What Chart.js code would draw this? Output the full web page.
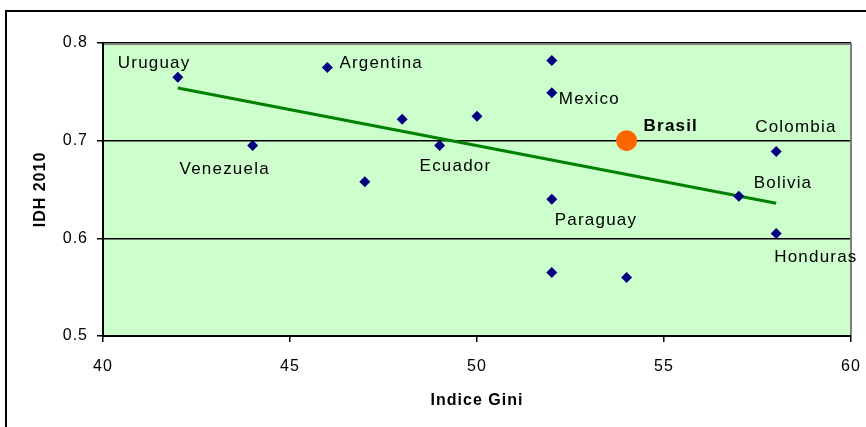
<!DOCTYPE html>
<html>
<head>
<meta charset="utf-8">
<script src="https://cdn.jsdelivr.net/npm/chart.js@4/dist/chart.umd.min.js"></script>
<style>
  html, body { margin: 0; padding: 0; background: #ffffff; }
  canvas { display: block; }
</style>
</head>
<body>
<canvas id="chart" width="866" height="427"></canvas>
<script>
// Latin American countries: Gini index vs. HDI 2010
const countryNames = ['Uruguay', 'Venezuela', 'Argentina', '', '', '', 'Mexico', 'Ecuador', '', 'Paraguay', '', '', 'Honduras', 'Colombia', 'Bolivia'];
const giniValues   = [42, 44, 46, 48, 50, 52, 52, 49, 47, 52, 52, 54, 58, 58, 57];
const idhValues    = [0.765, 0.695, 0.775, 0.722, 0.725, 0.782, 0.749, 0.695, 0.658, 0.640, 0.565, 0.560, 0.605, 0.689, 0.643];

// Highlighted country
const brasilName = 'Brasil';
const brasilGini = [54];
const brasilIdh  = [0.700];

// Linear trend line end points
const trendGini = [42, 58];
const trendIdh  = [0.754, 0.636];

// Axis ticks
const xTicks = [40, 45, 50, 55, 60];
const yTicks = [0.5, 0.6, 0.7, 0.8];

// Label placement relative to each point (left edge, baseline)
const labelOffsets = {
  Uruguay:   { dx: -60, dy: -9 },
  Venezuela: { dx: -73, dy: 28 },
  Argentina: { dx: 12,  dy: 1 },
  Mexico:    { dx: 7,   dy: 11 },
  Ecuador:   { dx: -20, dy: 25 },
  Paraguay:  { dx: 3,   dy: 26 },
  Honduras:  { dx: -2,  dy: 29 },
  Colombia:  { dx: -21, dy: -19 },
  Bolivia:   { dx: 15,  dy: -8 },
  Brasil:    { dx: 17,  dy: -10 }
};

const FONT = '"Liberation Sans", Arial, sans-serif';

const toPoints = (xs, ys) => xs.map((x, i) => ({ x: x, y: ys[i] }));

const framePlugin = {
  id: 'frame',
  beforeDraw(chart) {
    const { ctx, chartArea: a } = chart;
    ctx.letterSpacing = '1px';
    ctx.save();
    ctx.fillStyle = '#CCFFCC';
    ctx.fillRect(a.left, a.top, a.right - a.left, a.bottom - a.top);
    // outer chart frame
    ctx.strokeStyle = '#000000';
    ctx.lineWidth = 2;
    ctx.beginPath();
    ctx.moveTo(6, 430);
    ctx.lineTo(6, 11);
    ctx.lineTo(870, 11);
    ctx.stroke();
    ctx.restore();
  },
  beforeDatasetsDraw(chart) {
    const { ctx, chartArea: a } = chart;
    ctx.save();
    ctx.strokeStyle = '#808080';
    ctx.lineWidth = 2;
    ctx.beginPath();
    ctx.moveTo(a.left + 1, a.top + 1);
    ctx.lineTo(a.right, a.top + 1);
    ctx.lineTo(a.right, a.bottom - 1);
    ctx.stroke();
    ctx.restore();
  },
  afterDatasetsDraw(chart) {
    const { ctx } = chart;
    const xs = chart.scales.x, ys = chart.scales.y;
    ctx.save();
    ctx.fillStyle = '#000000';
    ctx.textAlign = 'left';
    ctx.textBaseline = 'alphabetic';
    ctx.letterSpacing = '1.2px';
    countryNames.forEach((name, i) => {
      if (!name) return;
      const off = labelOffsets[name];
      ctx.font = '17px ' + FONT;
      ctx.fillText(name, xs.getPixelForValue(giniValues[i]) + off.dx, ys.getPixelForValue(idhValues[i]) + off.dy);
    });
    const bo = labelOffsets[brasilName];
    ctx.font = 'bold 17px ' + FONT;
    ctx.fillText(brasilName, xs.getPixelForValue(brasilGini[0]) + bo.dx, ys.getPixelForValue(brasilIdh[0]) + bo.dy);
    ctx.restore();
  }
};

new Chart(document.getElementById('chart'), {
  type: 'scatter',
  data: {
    datasets: [
      {
        label: 'Países',
        data: toPoints(giniValues, idhValues),
        pointStyle: 'rectRot',
        pointRadius: 5.5,
        pointHoverRadius: 5.5,
        backgroundColor: '#000080',
        borderColor: '#000080',
        borderWidth: 0
      },
      {
        label: brasilName,
        data: toPoints(brasilGini, brasilIdh),
        pointStyle: 'circle',
        pointRadius: 10.5,
        pointHoverRadius: 10.5,
        backgroundColor: '#FF6600',
        borderColor: '#FF6600',
        borderWidth: 0
      },
      {
        label: 'Tendência',
        data: toPoints(trendGini, trendIdh),
        showLine: true,
        borderColor: '#008000',
        borderWidth: 3,
        pointRadius: 0,
        pointHoverRadius: 0,
        fill: false
      }
    ]
  },
  options: {
    responsive: false,
    animation: false,
    devicePixelRatio: 1,
    layout: { padding: { left: 0, top: 43, right: 15, bottom: 0 } },
    plugins: {
      legend: { display: false },
      tooltip: { enabled: false }
    },
    scales: {
      x: {
        type: 'linear',
        min: 40,
        max: 60,
        afterFit(scale) { scale.height = 91; scale.paddingLeft = 0; scale.paddingRight = 0; },
        afterBuildTicks(scale) { scale.ticks = xTicks.map(v => ({ value: v })); },
        ticks: {
          color: '#000000',
          font: { family: FONT, size: 16 },
          padding: 15,
          maxRotation: 0
        },
        grid: {
          drawOnChartArea: false,
          drawTicks: true,
          tickLength: 6,
          color: '#000000',
          lineWidth: 1.5
        },
        border: { display: true, color: '#000000', width: 2 },
        title: {
          display: true,
          text: 'Indice Gini',
          color: '#000000',
          font: { family: FONT, size: 16, weight: 'bold' },
          padding: { top: 0, bottom: 17 }
        }
      },
      y: {
        type: 'linear',
        min: 0.5,
        max: 0.8,
        afterFit(scale) { scale.width = 103; scale.paddingTop = 0; scale.paddingBottom = 0; },
        afterBuildTicks(scale) { scale.ticks = yTicks.map(v => ({ value: v })); },
        ticks: {
          color: '#000000',
          font: { family: FONT, size: 16 },
          padding: 9,
          callback: v => Number(v).toFixed(1)
        },
        grid: {
          drawTicks: true,
          tickLength: 6,
          color: '#000000',
          lineWidth: 1.5
        },
        border: { display: true, color: '#000000', width: 2 },
        title: {
          display: true,
          text: 'IDH 2010',
          color: '#000000',
          font: { family: FONT, size: 16, weight: 'bold' },
          padding: { top: 31, bottom: 0 }
        }
      }
    }
  },
  plugins: [framePlugin]
});
</script>
</body>
</html>
